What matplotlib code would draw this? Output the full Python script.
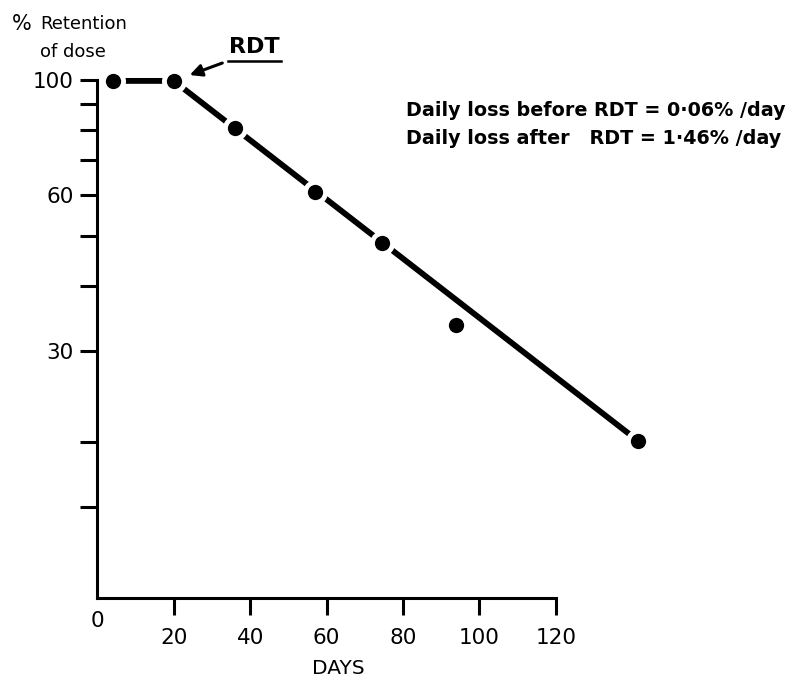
import matplotlib
matplotlib.use('Agg')
import matplotlib.pyplot as plt
from matplotlib.lines import Line2D
from matplotlib.ticker import FixedLocator, NullFormatter

# readings
days = [4, 20, 36, 57, 74.5, 94, 141.5]
retention = [99.6, 99.6, 80.8, 60.8, 48.5, 33.7, 20.1]

# fitted line: flat before RDT, then straight (log scale) after
fit_days = [4, 20, 141.5]
fit_retention = [99.6, 99.6, 20.1]

x_ticks = [20, 40, 60, 80, 100, 120]
y_major = [30, 60, 100]
y_minor = [15, 20, 40, 50, 70, 80, 90]
notes = ['Daily loss before RDT = 0·06% /day',
         'Daily loss after   RDT = 1·46% /day']

plt.rcParams['font.family'] = ['DejaVu Sans']

fig = plt.figure(figsize=(7.94, 6.83), dpi=100)
ax = fig.add_axes([97.3 / 794, 1 - 597.7 / 683, 554 / 794, (597.7 - 80) / 683])

ax.set_yscale('log')
ax.set_xlim(0, 145)
ax.set_ylim(10, 100)

ax.plot(fit_days, fit_retention, color='black', lw=4.2, solid_capstyle='butt',
        clip_on=False, zorder=2)
ax.plot(days, retention, 'o', color='white', ms=18, mew=0, clip_on=False, zorder=3)
ax.plot(days, retention, 'o', color='black', ms=11, mew=0, clip_on=False, zorder=4)

for s in ['top', 'right']:
    ax.spines[s].set_visible(False)
ax.spines['left'].set_bounds(10, 100)
ax.spines['bottom'].set_bounds(0, 120)
ax.spines['left'].set_linewidth(2.2)
ax.spines['bottom'].set_linewidth(2.2)

ax.yaxis.set_major_locator(FixedLocator(y_major))
ax.yaxis.set_minor_locator(FixedLocator(y_minor))
ax.set_yticklabels([str(v) for v in y_major])
ax.yaxis.set_minor_formatter(NullFormatter())
ax.tick_params(axis='y', which='both', direction='out', length=12, width=2.2,
               labelsize=15.5, pad=5)

ax.set_xticks(x_ticks)
ax.set_xticklabels([str(v) for v in x_ticks])
ax.tick_params(axis='x', direction='out', length=12, width=2.2, labelsize=15.5, pad=10)
ax.text(0, -0.025, '0', transform=ax.get_xaxis_transform(), ha='center', va='top',
        fontsize=15.5)

ax.set_xlabel('DAYS', fontsize=14.5)
ax.xaxis.set_label_coords(63 / 145, -0.118)

fig.text(12 / 794, 1 - 24 / 683, '%', fontsize=15, va='center', ha='left')
fig.text(40 / 794, 1 - 24 / 683, 'Retention', fontsize=13, va='center', ha='left')
fig.text(40 / 794, 1 - 52 / 683, 'of dose', fontsize=13, va='center', ha='left')

# RDT arrow
ax.annotate('', xy=(23.5, 101.8), xytext=(33.4, 108.3),
            arrowprops=dict(arrowstyle='-|>', color='black', lw=2.2,
                            mutation_scale=18),
            annotation_clip=False)
fig.text(254 / 794, 1 - 47 / 683, 'RDT', fontsize=16, fontweight='bold',
         ha='center', va='center')
fig.add_artist(Line2D([228 / 794, 281 / 794], [1 - 61 / 683, 1 - 61 / 683],
                      color='black', lw=1.8))

for i, t in enumerate(notes):
    fig.text(406 / 794, 1 - (110 + 28 * i) / 683, t, fontsize=13.8, fontweight='bold',
             family=['DejaVu Sans'], ha='left', va='center')

fig.savefig('out.png', dpi=100)
